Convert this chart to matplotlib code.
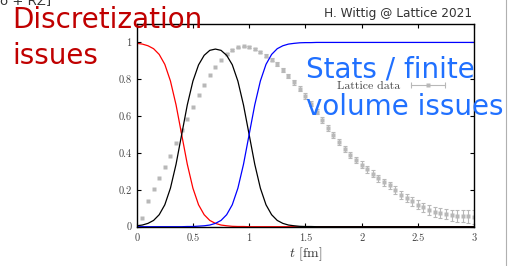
import matplotlib
matplotlib.use("Agg")
import matplotlib.pyplot as plt  # noqa: E402
import numpy as np  # noqa: E402
from matplotlib.lines import Line2D  # noqa: E402
from matplotlib.legend_handler import HandlerTuple, HandlerLine2D  # noqa: E402

# %% data read off the slide
# window curves (short distance / intermediate / long distance)
t_win = [0.00, 0.05, 0.10, 0.15, 0.20, 0.25, 0.30, 0.35, 0.40, 0.45,
         0.50, 0.55, 0.60, 0.65, 0.70, 0.75, 0.80, 0.85, 0.90, 0.95,
         1.00, 1.05, 1.10, 1.15, 1.20, 1.25, 1.30, 1.35, 1.40, 1.45,
         1.50, 1.55, 1.60, 3.00]
red_sd = [0.995, 0.991, 0.982, 0.966, 0.935, 0.881, 0.791, 0.661, 0.500, 0.339,
          0.209, 0.119, 0.065, 0.034, 0.018, 0.009, 0.005, 0.002, 0.001, 0.001,
          0.000, 0.000, 0.000, 0.000, 0.000, 0.000, 0.000, 0.000, 0.000, 0.000,
          0.000, 0.000, 0.000, 0.000]
black_w = [0.005, 0.009, 0.018, 0.034, 0.065, 0.119, 0.209, 0.339, 0.500, 0.661,
           0.790, 0.878, 0.930, 0.957, 0.964, 0.957, 0.930, 0.879, 0.790, 0.660,
           0.500, 0.339, 0.209, 0.119, 0.065, 0.034, 0.018, 0.009, 0.005, 0.002,
           0.001, 0.001, 0.000, 0.000]
blue_ld = [0.000, 0.000, 0.000, 0.000, 0.000, 0.000, 0.000, 0.000, 0.000, 0.001,
           0.001, 0.003, 0.005, 0.009, 0.018, 0.034, 0.065, 0.119, 0.209, 0.339,
           0.500, 0.661, 0.791, 0.881, 0.935, 0.966, 0.982, 0.991, 0.995, 0.998,
           0.999, 0.999, 1.000, 1.000]

# lattice data points
t_lat = [0.05, 0.10, 0.15, 0.20, 0.25, 0.30, 0.35, 0.40, 0.45, 0.50,
         0.55, 0.60, 0.65, 0.70, 0.75, 0.80, 0.85, 0.90, 0.95, 1.00,
         1.05, 1.10, 1.15, 1.20, 1.25, 1.30, 1.35, 1.40, 1.45, 1.50,
         1.55, 1.60, 1.65, 1.70, 1.75, 1.80, 1.85, 1.90, 1.95, 2.00,
         2.05, 2.10, 2.15, 2.20, 2.25, 2.30, 2.35, 2.40, 2.45, 2.50,
         2.55, 2.60, 2.65, 2.70, 2.75, 2.80, 2.85, 2.90, 2.95, 3.00]
lat_val = [0.049, 0.140, 0.207, 0.265, 0.326, 0.386, 0.453, 0.525, 0.585, 0.649,
           0.712, 0.770, 0.821, 0.866, 0.906, 0.937, 0.959, 0.973, 0.978, 0.975,
           0.966, 0.949, 0.929, 0.906, 0.883, 0.852, 0.819, 0.784, 0.748, 0.709,
           0.668, 0.625, 0.580, 0.536, 0.497, 0.460, 0.422, 0.390, 0.362, 0.335,
           0.312, 0.288, 0.262, 0.240, 0.224, 0.198, 0.174, 0.155, 0.137, 0.119,
           0.105, 0.092, 0.082, 0.074, 0.069, 0.063, 0.060, 0.058, 0.057, 0.052]
lat_err = [0.0, 0.0, 0.0, 0.0, 0.0, 0.0, 0.0, 0.0, 0.0, 0.0,
           0.0, 0.0, 0.0, 0.0, 0.0, 0.003, 0.003, 0.004, 0.004, 0.005,
           0.006, 0.007, 0.008, 0.009, 0.010, 0.011, 0.012, 0.013, 0.013, 0.014,
           0.014, 0.015, 0.015, 0.016, 0.016, 0.017, 0.017, 0.018, 0.018, 0.019,
           0.019, 0.020, 0.020, 0.021, 0.021, 0.022, 0.022, 0.023, 0.023, 0.024,
           0.025, 0.026, 0.027, 0.028, 0.029, 0.030, 0.032, 0.034, 0.036, 0.038]

x_ticks = [0, 0.5, 1, 1.5, 2, 2.5, 3]
x_tick_labels = ["0", "0.5", "1", "1.5", "2", "2.5", "3"]
y_ticks = [0, 0.2, 0.4, 0.6, 0.8, 1]
y_tick_labels = ["0", "0.2", "0.4", "0.6", "0.8", "1"]

# %% style
plt.rcParams.update({
    "font.family": "cmr10",
    "mathtext.fontset": "cm",
    "axes.formatter.use_mathtext": True,
    "axes.unicode_minus": False,
})

W, H = 508, 266
fig = plt.figure(figsize=(W / 100, H / 100), dpi=100)
ax = fig.add_axes([136.7 / W, 1 - 226.7 / H, (474 - 136.7) / W, (226.7 - 24) / H])

gray = "#b8b8b8"
t_lat = np.asarray(t_lat)
lat_val = np.asarray(lat_val)
lat_err = np.asarray(lat_err)
has_err = lat_err > 0

ax.errorbar(t_lat[has_err], lat_val[has_err], yerr=lat_err[has_err], fmt="none",
            ecolor=gray, elinewidth=0.8, capsize=1.6, capthick=0.8, zorder=1)
ax.plot(t_lat, lat_val, ls="none", marker="s", ms=2.6, color=gray, mec="none", zorder=1)

ax.plot(t_win, red_sd, color="#ff0000", lw=0.9, zorder=2)
ax.plot(t_win, black_w, color="black", lw=0.9, zorder=2)
ax.plot(t_win, blue_ld, color="#0000ff", lw=0.9, zorder=2)

ax.set_xlim(0, 3)
ax.set_ylim(0, 1.1)
ax.set_xticks(x_ticks, x_tick_labels)
ax.set_yticks(y_ticks, y_tick_labels)
ax.tick_params(direction="in", top=True, right=True, length=3, width=0.8,
               labelsize=7.5, labelcolor="#444444")
ax.tick_params(axis="x", pad=5)
ax.tick_params(axis="y", pad=3.5)
for s in ax.spines.values():
    s.set_linewidth(1.0)
ax.set_xlabel("$t$ [fm]", fontsize=10, color="#333333", labelpad=2)

# legend: text first, then a horizontal bar with caps and a centre point
h_bar = Line2D([], [], color=gray, lw=0.8, marker="|", ms=4, mew=0.8)
h_dot = Line2D([], [], ls="none", marker="s", ms=2.4, color=gray, mec="none")
ax.legend([(h_bar, h_dot)], ["Lattice data"], loc="center right",
          bbox_to_anchor=((445 - 136.7) / (474 - 136.7), (226.7 - 85.7) / (226.7 - 24)),
          frameon=False, markerfirst=False, fontsize=8.5, labelcolor="#444444",
          borderpad=0, borderaxespad=0, handlelength=2.9, handletextpad=0.9,
          handler_map={tuple: HandlerTuple(ndivide=1, pad=0),
                       h_bar: HandlerLine2D(numpoints=2, marker_pad=0),
                       h_dot: HandlerLine2D(numpoints=1)})

# slide annotations
sans = ["DejaVu Sans"]
fig.text(12 / W, 1 - 28.3 / H, "Discretization", family=sans, fontsize=20,
         color="#c00000", va="baseline", ha="left")
fig.text(12 / W, 1 - 64.3 / H, "issues", family=sans, fontsize=20,
         color="#c00000", va="baseline", ha="left")
fig.text(306 / W, 1 - 77.3 / H, "Stats / finite", family=sans, fontsize=20,
         color="#2070ff", va="baseline", ha="left")
fig.text(306 / W, 1 - 115 / H, "volume issues", family=sans, fontsize=20,
         color="#2070ff", va="baseline", ha="left")
fig.text(472 / W, 1 - 16.7 / H, "H. Wittig @ Lattice 2021", family=sans, fontsize=8.7,
         color="#333333", va="baseline", ha="right")
fig.text(0 / W, 1 - 4.5 / H, "o + RZ]", family=sans, fontsize=9.5,
         color="#333333", va="baseline", ha="left")
fig.add_artist(Line2D([506 / W, 506 / W], [0, 1], transform=fig.transFigure,
                      color="#b0b0b0", lw=0.8))

fig.savefig("out.png", dpi=100)
